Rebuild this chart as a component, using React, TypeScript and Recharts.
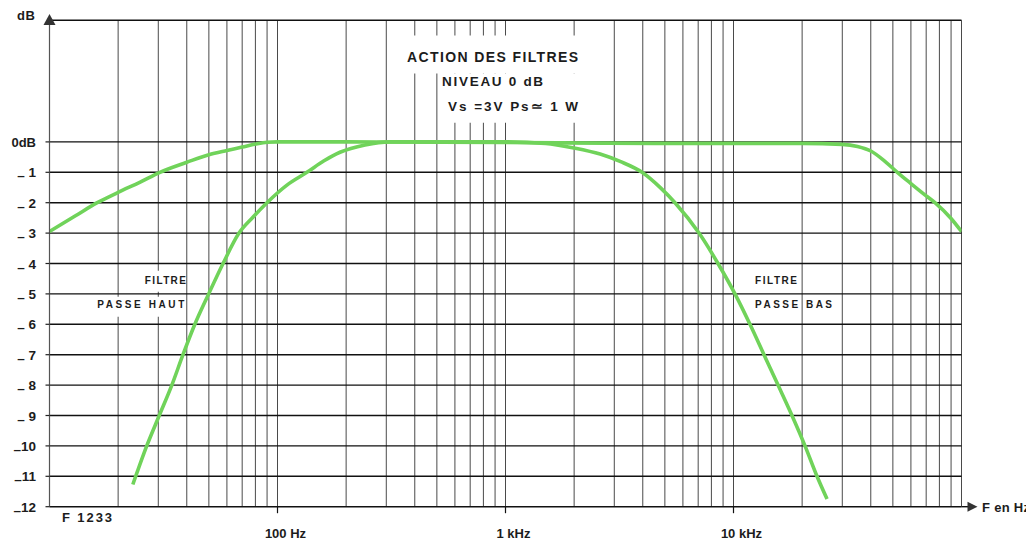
import React from 'react';
import { LineChart, Line, XAxis, YAxis, CartesianGrid, ReferenceArea, ReferenceDot } from 'recharts';

// ---- data ----
const gridFreqs = [
  20, 30, 40, 50, 60, 70, 80, 90, 100,
  200, 300, 400, 500, 600, 700, 800, 900, 1000,
  2000, 3000, 4000, 5000, 6000, 7000, 8000, 9000, 10000,
  20000, 30000, 40000, 50000, 60000, 70000, 80000, 90000,
];
const labelFreqs = [100, 1000, 10000];
const labelTexts = ['100 Hz', '1 kHz', '10 kHz'];

const dbTicks = [0, -1, -2, -3, -4, -5, -6, -7, -8, -9, -10, -11, -12];
const dbTickLabels = ['0dB', '– 1', '– 2', '– 3', '– 4', '– 5', '– 6', '– 7', '– 8', '– 9', '–10', '–11', '–12'];

// wide band curve (gentle filters)
const wideFreq = [10, 13, 16.2, 20, 25, 30.5, 40, 50, 60, 70, 80, 90, 100, 200, 1000, 5000, 10000, 20000, 30000, 35000, 40000, 46000, 52300, 60000, 68000, 76500, 90000, 100000];
const wideDb = [-2.95, -2.43, -2.0, -1.66, -1.32, -1.0, -0.67, -0.42, -0.28, -0.17, -0.07, -0.01, 0, 0, -0.02, -0.05, -0.05, -0.05, -0.08, -0.15, -0.3, -0.63, -1.0, -1.37, -1.7, -2.0, -2.52, -2.95];

// narrow band curve (filters active)
const narrowFreq = [23.2, 26.7, 30.3, 34.4, 38.5, 43.4, 49.9, 57.7, 67.8, 78, 89.9, 110, 134.6, 160, 188, 242, 311, 1000, 1500, 2000, 2600, 3200, 3970, 4800, 5540, 7060, 8550, 10150, 11810, 13610, 15680, 18050, 20590, 23240, 25720];
const narrowDb = [-11.27, -10, -9, -8, -7, -6, -5, -4, -3, -2.48, -2, -1.42, -1, -0.62, -0.34, -0.1, 0, 0, -0.05, -0.2, -0.4, -0.65, -1, -1.52, -2, -3, -4, -5, -6, -7, -8, -9, -10, -11, -11.75];

const wideData = wideFreq.map((f, i) => ({ f, db: wideDb[i] }));
const narrowData = narrowFreq.map((f, i) => ({ f, db: narrowDb[i] }));

const FONT = '"Liberation Sans", Arial, Helvetica, sans-serif';
const INK = '#1c1c1c';
const GREEN = '#70d35a';

const XTick = (props: any) => {
  const { x, y, payload } = props;
  const idx = labelFreqs.indexOf(payload.value);
  if (idx < 0) return <g />;
  return (
    <g>
      <line x1={x} x2={x} y1={y} y2={y + 6.5} stroke="#111" strokeWidth={1.2} />
      <text x={x + 8} y={y + 31.5} textAnchor="middle" fontFamily={FONT} fontWeight={700} fontSize={13} fill={INK}>
        {labelTexts[idx]}
      </text>
    </g>
  );
};

const YTick = (props: any) => {
  const { x, y, payload } = props;
  const idx = dbTicks.indexOf(payload.value);
  const label = dbTickLabels[idx] || '';
  if (label.startsWith('–')) {
    return (
      <text x={x} y={y + 5} textAnchor="end" fontFamily={FONT} fontWeight={700} fontSize={13.5} fill={INK}>
        <tspan dy={3}>–</tspan>
        <tspan dy={-3}>{label.slice(1)}</tspan>
      </text>
    );
  }
  return (
    <text x={x} y={y + 5} textAnchor="end" fontFamily={FONT} fontWeight={700} fontSize={13} fill={INK}>
      {label}
    </text>
  );
};

const textShape = (txt: string, dx: number, dy: number, size: number, width: number, weight = 700) => (p: any) => (
  <text
    x={p.cx + dx}
    y={p.cy + dy}
    fontFamily={FONT}
    fontWeight={weight}
    fontSize={size}
    fill={INK}
    textLength={width}
    lengthAdjust="spacing"
  >
    {txt}
  </text>
);

const yArrow = (p: any) => (
  <g>
    <polygon points={`${p.cx},${p.cy - 6.3} ${p.cx - 6},${p.cy + 4.7} ${p.cx + 6},${p.cy + 4.7}`} fill="#333" />
    <text x={p.cx - 32.5} y={p.cy - 0.8} fontFamily={FONT} fontWeight={700} fontSize={13} fill={INK} textLength={18} lengthAdjust="spacing">dB</text>
  </g>
);

const xArrow = (p: any) => (
  <g>
    <line x1={p.cx} x2={p.cx + 7} y1={p.cy} y2={p.cy} stroke="#111" strokeWidth={1.4} />
    <polygon points={`${p.cx + 6},${p.cy - 5} ${p.cx + 16},${p.cy} ${p.cx + 6},${p.cy + 5}`} fill="#333" />
    <text x={p.cx + 20.5} y={p.cy + 5} fontFamily={FONT} fontWeight={700} fontSize={13} fill={INK} textLength={48} lengthAdjust="spacing">F en Hz</text>
  </g>
);

const whiteBox = { fill: '#ffffff', fillOpacity: 1, stroke: 'none', ifOverflow: 'visible' as const };

export default function App() {
  return (
    <div style={{ width: 1026, height: 536, background: '#fff' }}>
      <LineChart width={1026} height={536} margin={{ top: 12.3, right: 72.5, bottom: 0, left: 0 }}>
        <CartesianGrid horizontal={false} vertical stroke="#4a4a4a" strokeWidth={1} />
        <CartesianGrid vertical={false} horizontal stroke="#111" strokeWidth={1.4} />
        <XAxis
          dataKey="f"
          type="number"
          scale="log"
          domain={[10, 100000]}
          ticks={gridFreqs}
          interval={0}
          height={37.3}
          tickSize={0}
          tickMargin={0}
          axisLine={false}
          tickLine={false}
          tick={<XTick />}
          allowDataOverflow
        />
        <YAxis
          type="number"
          domain={[-12, 4]}
          ticks={dbTicks}
          interval={0}
          width={41.5}
          tickSize={4}
          tickMargin={9.5}
          axisLine={{ stroke: '#555', strokeWidth: 1.2 }}
          tickLine={{ stroke: '#222', strokeWidth: 1.2 }}
          tick={<YTick />}
          allowDataOverflow
        />

        {/* white masks behind the texts */}
        <ReferenceArea x1={344} x2={2600} y1={2.25} y2={3.5} {...whiteBox} />
        <ReferenceArea x1={522} x2={2600} y1={0.63} y2={2.25} {...whiteBox} />
        <ReferenceArea x1={24.9} x2={39.3} y1={-4.93} y2={-4.24} {...whiteBox} />
        <ReferenceArea x1={15.5} x2={39.3} y1={-5.75} y2={-5.09} {...whiteBox} />
        <ReferenceArea x1={12050} x2={19380} y1={-4.93} y2={-4.24} {...whiteBox} />
        <ReferenceArea x1={12050} x2={19380} y1={-5.75} y2={-5.09} {...whiteBox} />
        <ReferenceArea x1={20380} x2={27880} y1={-5.75} y2={-5.09} {...whiteBox} />

        <Line data={wideData} dataKey="db" type="monotone" stroke={GREEN} strokeWidth={3.6} dot={false} activeDot={false} isAnimationActive={false} />
        <Line data={narrowData} dataKey="db" type="monotone" stroke={GREEN} strokeWidth={3.6} dot={false} activeDot={false} isAnimationActive={false} />

        {/* texts */}
        <ReferenceDot x={370} y={2.62} ifOverflow="visible" shape={textShape('ACTION DES  FILTRES', 0, 0, 14, 171, 700)} />
        <ReferenceDot x={527} y={1.83} ifOverflow="visible" shape={textShape('NIVEAU  0 dB', 0, 0, 13.5, 101, 700)} />
        <ReferenceDot x={560} y={1.03} ifOverflow="visible" shape={textShape('Vs  =3V    Ps\u2243 1 W', 0, 0, 13.5, 130, 700)} />
        <ReferenceDot x={26.2} y={-4.69} ifOverflow="visible" shape={textShape('FILTRE', 0, 0, 10, 41)} />
        <ReferenceDot x={16.2} y={-5.48} ifOverflow="visible" shape={textShape('PASSE  HAUT', 0, 0, 10, 87)} />
        <ReferenceDot x={12430} y={-4.69} ifOverflow="visible" shape={textShape('FILTRE', 0, 0, 10, 42)} />
        <ReferenceDot x={12430} y={-5.48} ifOverflow="visible" shape={textShape('PASSE  BAS', 0, 0, 10, 77)} />
        <ReferenceDot x={10} y={-12} ifOverflow="visible" shape={textShape('F 1233', 12.5, 15.5, 13, 50)} />
        <ReferenceDot x={10} y={4} ifOverflow="visible" shape={yArrow} />
        <ReferenceDot x={100000} y={-12} ifOverflow="visible" shape={xArrow} />
      </LineChart>
    </div>
  );
}
